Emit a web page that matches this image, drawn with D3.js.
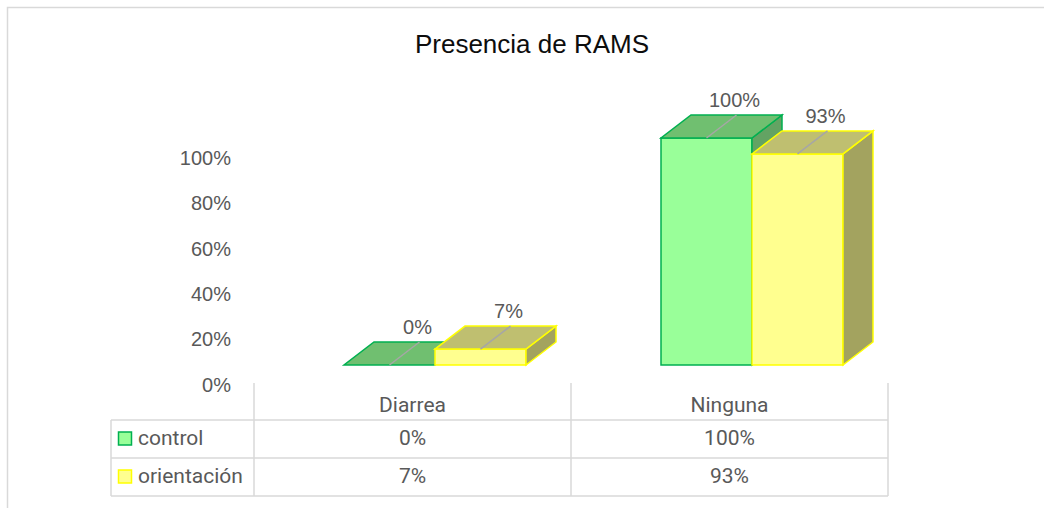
<!DOCTYPE html>
<html><head><meta charset="utf-8">
<script src="https://cdn.jsdelivr.net/npm/d3@7"></script>
<style>body{margin:0;background:#fff} svg{display:block}</style>
</head><body>
<svg id="c" width="1044" height="508"></svg>
<script>
const categories = ["Diarrea", "Ninguna"];
const seriesNames = ["control", "orientación"];
const controlValues = [0.00, 1.00];
const orientacionValues = [0.07, 0.93];
const yTicks = [0, 0.2, 0.4, 0.6, 0.8, 1.0];
const title = "Presencia de RAMS";

const series = [
  {name: seriesNames[0], values: controlValues, front: "#99ff99", top: "#70bf70", side: "#63a363", stroke: "#00b050"},
  {name: seriesNames[1], values: orientacionValues, front: "#ffff8f", top: "#bfbf70", side: "#a3a35f", stroke: "#ffff00"}
];

const svg = d3.select("#c");
const fmt = d3.format(".0%");
const txtCol = "#595959";
const gridCol = "#d9d9d9";

// frame
svg.append("rect").attr("x", 7.5).attr("y", 7.5).attr("width", 1200).attr("height", 700)
  .attr("fill", "none").attr("stroke", gridCol).attr("stroke-width", 1.5);

// title
svg.append("text").attr("x", 532).attr("y", 53).attr("text-anchor", "middle")
  .attr("font-family", "Liberation Sans, Arial, sans-serif").attr("font-size", 26)
  .attr("fill", "#0d0d0d").text(title);

// scales
const x = d3.scaleBand().domain(categories).range([254, 888]);
const xs = d3.scaleBand().domain(seriesNames).range([0, 182]);
const groupOffset = 90;
const yBar = d3.scaleLinear().domain([0, 1]).range([365, 138]);
const yAx = d3.scaleLinear().domain([0, 1]).range([384.5, 158]);
const dx = 30, dy = -23;

// y axis labels
svg.append("g").selectAll("text").data(yTicks).join("text")
  .attr("x", 231).attr("y", d => yAx(d) + 7)
  .attr("text-anchor", "end")
  .attr("font-family", "Liberation Sans, Arial, sans-serif").attr("font-size", 20)
  .attr("fill", txtCol).text(d => fmt(d));

// bars
const gBars = svg.append("g");
series.forEach(s => {
  categories.forEach((c, i) => {
    const v = s.values[i];
    const x0 = x(c) + groupOffset + xs(s.name);
    const x1 = x0 + xs.bandwidth();
    const yt = yBar(v), yb = yBar(0);
    const g = gBars.append("g").attr("stroke", s.stroke).attr("stroke-width", 1.5).attr("stroke-linejoin", "miter");
    if (yb - yt > 0.5) {
      g.append("polygon").attr("points", [[x0, yb], [x1, yb], [x1, yt], [x0, yt]].join(" ")).attr("fill", s.front);
      g.append("polygon").attr("points", [[x1, yb], [x1 + dx, yb + dy], [x1 + dx, yt + dy], [x1, yt]].join(" ")).attr("fill", s.side);
    }
    g.append("polygon").attr("points", [[x0, yt], [x1, yt], [x1 + dx, yt + dy], [x0 + dx, yt + dy]].join(" ")).attr("fill", s.top);
    // leader line across top
    const xc = (x0 + x1) / 2;
    gBars.append("line").attr("x1", xc).attr("y1", yt).attr("x2", xc + dx).attr("y2", yt + dy)
      .attr("stroke", "#a6a6a6").attr("stroke-width", 1.5);
    gBars.append("text").attr("x", xc + 28).attr("y", yt + dy - 8)
      .attr("text-anchor", "middle")
      .attr("font-family", "Liberation Sans, Arial, sans-serif").attr("font-size", 20)
      .attr("fill", txtCol).text(fmt(v));
  });
});

// data table
const tLeft = 111, tHeadTop = 383;
const rowY = [420, 458, 496];
const tbl = svg.append("g").attr("stroke", gridCol).attr("stroke-width", 1.5).attr("fill", "none");
const vx = [x.range()[0], ...categories.map(c => x(c) + x.bandwidth())];
vx.forEach(v => tbl.append("line").attr("x1", v).attr("x2", v).attr("y1", tHeadTop).attr("y2", rowY[2]));
tbl.append("line").attr("x1", tLeft).attr("x2", tLeft).attr("y1", rowY[0]).attr("y2", rowY[2]);
rowY.forEach(r => tbl.append("line").attr("x1", tLeft).attr("x2", vx[vx.length - 1]).attr("y1", r).attr("y2", r));

const tFont = "Roboto, 'Noto Sans', sans-serif";
svg.append("g").selectAll("text").data(categories).join("text")
  .attr("x", c => x(c) + x.bandwidth() / 2).attr("y", 412)
  .attr("text-anchor", "middle").attr("font-family", tFont).attr("font-size", 21)
  .attr("fill", txtCol).text(c => c);

series.forEach((s, si) => {
  const cy = (rowY[si] + rowY[si + 1]) / 2;
  svg.append("rect").attr("x", 118.5).attr("y", cy - 7).attr("width", 13).attr("height", 13)
    .attr("fill", s.front).attr("stroke", s.stroke).attr("stroke-width", 1.5);
  svg.append("text").attr("x", 138).attr("y", cy + 6)
    .attr("font-family", tFont).attr("font-size", 21).attr("fill", txtCol).text(s.name);
  svg.append("g").selectAll("text").data(categories).join("text")
    .attr("x", c => x(c) + x.bandwidth() / 2).attr("y", cy + 6)
    .attr("text-anchor", "middle").attr("font-family", tFont).attr("font-size", 21)
    .attr("fill", txtCol).text((c, i) => fmt(s.values[i]));
});
</script>
</body></html>
